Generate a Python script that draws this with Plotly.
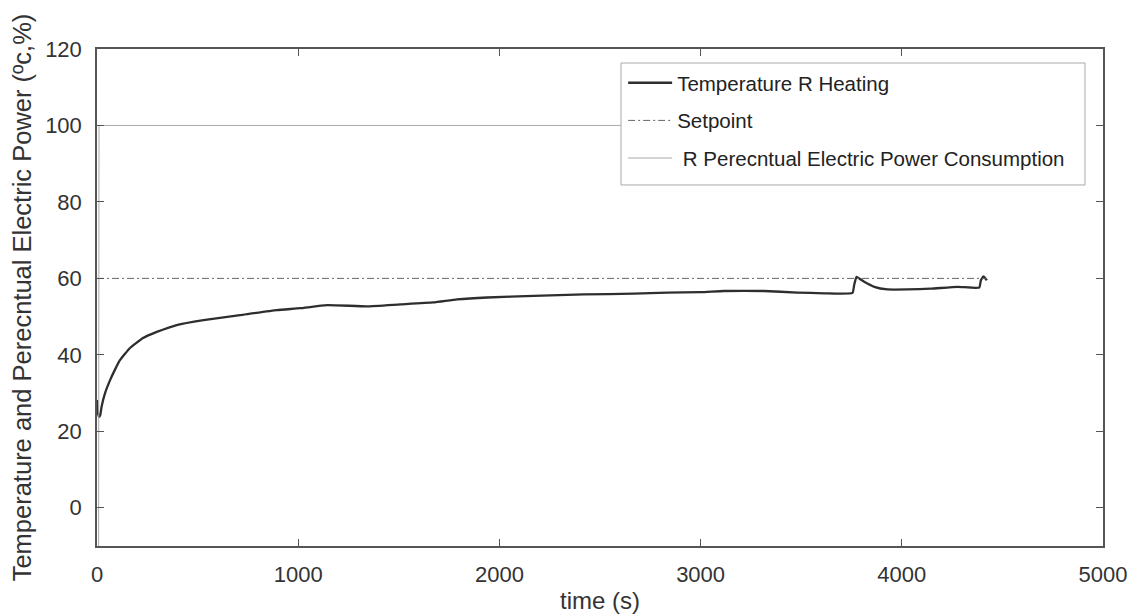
import plotly.graph_objects as go

# Temperature R Heating (time in s, temperature in °C)
time_temp = [0, 4, 10, 16, 23, 40, 65, 90, 114, 164, 229, 297, 396, 529, 711, 894,
             1010, 1143, 1342, 1507, 1672, 1790, 1939, 2170, 2420, 2667, 2834, 3000,
             3116, 3315, 3481, 3614, 3755, 3763, 3775, 3813, 3863, 3929, 4028, 4144,
             4277, 4385, 4393, 4406, 4423]
temp = [28.2, 25.0, 23.8, 24.2, 26.5, 30.0, 33.4, 36.2, 38.6, 41.8, 44.4, 46.0, 47.8,
        49.1, 50.4, 51.7, 52.2, 53.0, 52.7, 53.2, 53.7, 54.5, 55.0, 55.4, 55.8, 56.0,
        56.3, 56.4, 56.7, 56.7, 56.3, 56.1, 56.2, 58.2, 60.4, 59.1, 57.8, 57.1, 57.1,
        57.3, 57.8, 57.6, 59.5, 60.5, 59.5]

# Setpoint
time_setpoint = [0, 4423]
setpoint = [60, 60]

# R Percentual electric power consumption (%)
time_power = [8, 10, 4423]
power = [-10, 100, 100]

x_ticks = [0, 1000, 2000, 3000, 4000, 5000]
y_ticks = [0, 20, 40, 60, 80, 100, 120]

FONT = "Liberation Sans, Arial, Helvetica, sans-serif"
AX = "#555555"

fig = go.Figure()
fig.add_trace(go.Scatter(x=time_temp, y=temp, mode="lines", line_shape="spline",
                         name="Temperature R Heating", legendgroup="a",
                         line=dict(color="#2e2e2e", width=2.3, smoothing=0.4)))
fig.add_trace(go.Scatter(x=time_setpoint, y=setpoint, mode="lines",
                         name="Setpoint", legendgroup="b",
                         line=dict(color="#666666", width=1, dash="7px,3px,2px,3px")))
fig.add_trace(go.Scatter(x=time_power, y=power, mode="lines",
                         name=" R Perecntual Electric Power Consumption", legendgroup="c",
                         line=dict(color="#aaaaaa", width=1)))

# legend frame (drawn as a paper-referenced box behind the legend entries)
fig.add_shape(type="rect", xref="paper", yref="paper",
              x0=0.5209, x1=0.9821, y0=0.7264, y1=0.9718,
              line=dict(color="#aaaaaa", width=1), fillcolor="white", layer="above")

fig.update_layout(
    width=1135, height=614,
    margin=dict(l=89, r=40, t=41, b=76),
    paper_bgcolor="white", plot_bgcolor="white",
    font=dict(family=FONT, color="#333333", size=22),
    legend=dict(x=0.523, y=0.972, xanchor="left", yanchor="top",
                borderwidth=0, bgcolor="rgba(0,0,0,0)",
                font=dict(size=20.5, color="#222222"), itemwidth=44,
                traceorder="grouped", tracegroupgap=8),
    showlegend=True,
)
fig.update_xaxes(range=[0, 5000], tickvals=x_ticks, ticktext=[str(v) for v in x_ticks],
                 automargin=False,
                 showgrid=False, zeroline=False, showline=True, linecolor=AX, linewidth=1.5,
                 mirror="ticks", ticks="inside", ticklen=7, tickcolor=AX, tickwidth=1.2,
                 ticklabelstandoff=8,
                 title=dict(text="time (s)", font=dict(size=24), standoff=6))
fig.update_yaxes(range=[-10, 120], tickvals=y_ticks, ticktext=[str(v) for v in y_ticks],
                 automargin=False,
                 showgrid=False, zeroline=False, showline=True, linecolor=AX, linewidth=1.5,
                 mirror="ticks", ticks="inside", ticklen=7, tickcolor=AX, tickwidth=1.2,
                 ticklabelstandoff=9,
                 title=dict(text="Temperature and Perecntual Electric Power (ºc,%)",
                            font=dict(size=25.5), standoff=6))

fig.write_html("out.html")
